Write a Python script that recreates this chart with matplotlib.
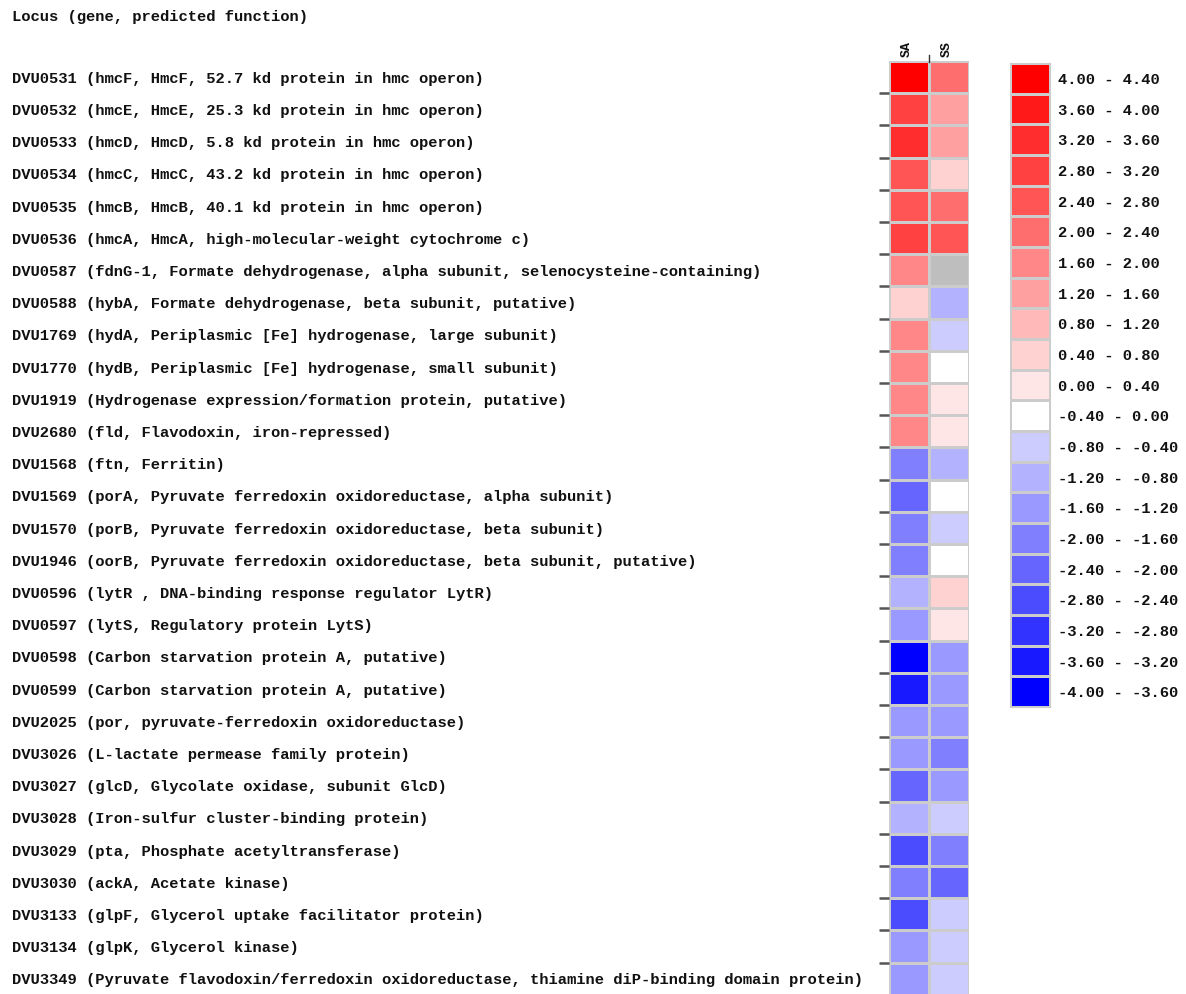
import numpy as np
import matplotlib
matplotlib.use("Agg")
import matplotlib.pyplot as plt
from matplotlib.colors import ListedColormap, BoundaryNorm
from matplotlib.transforms import blended_transform_factory

loci = [
    "DVU0531 (hmcF, HmcF, 52.7 kd protein in hmc operon)",
    "DVU0532 (hmcE, HmcE, 25.3 kd protein in hmc operon)",
    "DVU0533 (hmcD, HmcD, 5.8 kd protein in hmc operon)",
    "DVU0534 (hmcC, HmcC, 43.2 kd protein in hmc operon)",
    "DVU0535 (hmcB, HmcB, 40.1 kd protein in hmc operon)",
    "DVU0536 (hmcA, HmcA, high-molecular-weight cytochrome c)",
    "DVU0587 (fdnG-1, Formate dehydrogenase, alpha subunit, selenocysteine-containing)",
    "DVU0588 (hybA, Formate dehydrogenase, beta subunit, putative)",
    "DVU1769 (hydA, Periplasmic [Fe] hydrogenase, large subunit)",
    "DVU1770 (hydB, Periplasmic [Fe] hydrogenase, small subunit)",
    "DVU1919 (Hydrogenase expression/formation protein, putative)",
    "DVU2680 (fld, Flavodoxin, iron-repressed)",
    "DVU1568 (ftn, Ferritin)",
    "DVU1569 (porA, Pyruvate ferredoxin oxidoreductase, alpha subunit)",
    "DVU1570 (porB, Pyruvate ferredoxin oxidoreductase, beta subunit)",
    "DVU1946 (oorB, Pyruvate ferredoxin oxidoreductase, beta subunit, putative)",
    "DVU0596 (lytR , DNA-binding response regulator LytR)",
    "DVU0597 (lytS, Regulatory protein LytS)",
    "DVU0598 (Carbon starvation protein A, putative)",
    "DVU0599 (Carbon starvation protein A, putative)",
    "DVU2025 (por, pyruvate-ferredoxin oxidoreductase)",
    "DVU3026 (L-lactate permease family protein)",
    "DVU3027 (glcD, Glycolate oxidase, subunit GlcD)",
    "DVU3028 (Iron-sulfur cluster-binding protein)",
    "DVU3029 (pta, Phosphate acetyltransferase)",
    "DVU3030 (ackA, Acetate kinase)",
    "DVU3133 (glpF, Glycerol uptake facilitator protein)",
    "DVU3134 (glpK, Glycerol kinase)",
    "DVU3349 (Pyruvate flavodoxin/ferredoxin oxidoreductase, thiamine diP-binding domain protein)",
]

columns = ["SA", "SS"]

sa_values = [4.2, 3.0, 3.4, 2.6, 2.6, 3.0, 1.8, 0.6, 1.8, 1.8, 1.8, 1.8,
             -1.8, -2.2, -1.8, -1.8, -1.0, -1.4, -3.8, -3.4,
             -1.4, -1.4, -2.2, -1.0, -2.6, -1.8, -2.6, -1.4, -1.4]
ss_values = [2.2, 1.4, 1.4, 0.6, 2.2, 2.6, np.nan, -1.0, -0.6, -0.2, 0.2, 0.2,
             -1.0, -0.2, -0.6, -0.2, 0.6, 0.2, -1.4, -1.4,
             -1.4, -1.8, -1.4, -0.6, -1.8, -2.2, -0.6, -0.6, -0.6]

bin_edges = [-4.0, -3.6, -3.2, -2.8, -2.4, -2.0, -1.6, -1.2, -0.8, -0.4, 0.0,
             0.4, 0.8, 1.2, 1.6, 2.0, 2.4, 2.8, 3.2, 3.6, 4.0, 4.4]

bin_colors = [
    "#0000ff", "#1919ff", "#3333ff", "#4c4cff", "#6666ff", "#8080ff",
    "#9999ff", "#b2b2ff", "#ccccff", "#ffffff",
    "#ffe6e6", "#ffd2d2", "#ffb9b9", "#ffa0a0", "#ff8787", "#ff6e6e",
    "#ff5555", "#ff4141", "#ff2d2d", "#ff1919", "#ff0000",
]

cmap = ListedColormap(bin_colors)
cmap.set_bad("#bebebe")
norm = BoundaryNorm(bin_edges, cmap.N)

W, H = 1186, 994
fig = plt.figure(figsize=(W / 100, H / 100), dpi=100)
FONT = dict(family="Liberation Mono", weight="bold", color="#111111")
FS = 11.15

def fx(px):
    return px / W

def fy(py):
    return 1 - py / H

# Heatmap axes
n = len(loci)
row_h = 32.2
top = 61
left, right = 889, 969
ax = fig.add_axes([fx(left), fy(top + n * row_h), fx(right - left), (n * row_h) / H])
data = np.ma.masked_invalid(np.column_stack([sa_values, ss_values]))
ax.pcolormesh(np.arange(3), np.arange(n + 1), data, cmap=cmap, norm=norm,
              edgecolors="#cccccc", linewidth=0.8)
ax.set_xlim(0, 2)
ax.set_ylim(n, 0)
for s in ax.spines.values():
    s.set_visible(False)
ax.set_xticks([])
ax.set_yticks(np.arange(1, n))
ax.set_yticklabels([])
ax.tick_params(axis="y", length=7, width=1.8, color="#555555")

trans = blended_transform_factory(fig.transFigure, ax.transData)
for i, lab in enumerate(loci):
    ax.text(fx(12), i + 0.55, lab, transform=trans, ha="left", va="center",
            fontsize=FS, **FONT)

# Column headers
for j, c in enumerate(columns):
    fig.text(fx(left + 18 + j * 40), fy(57), c, rotation=90, ha="center", va="bottom",
             fontsize=9.5, **FONT)
fig.add_artist(plt.Line2D([fx(929), fx(929)], [fy(55), fy(62)], color="#333333", lw=1))

# Title
fig.text(fx(12), fy(17), "Locus (gene, predicted function)", ha="left", va="center",
         fontsize=FS, **FONT)

# Legend
nb = len(bin_colors)
lg_top, lg_bot = 63, 707
lax = fig.add_axes([fx(1010), fy(lg_bot), fx(40), (lg_bot - lg_top) / H])
vals = np.array(bin_edges[:-1])[::-1].reshape(-1, 1) + 0.2
lax.pcolormesh(np.arange(2), np.arange(nb + 1), vals, cmap=cmap, norm=norm,
               edgecolors="#cccccc", linewidth=0.8)
lax.set_xlim(0, 1)
lax.set_ylim(nb, 0)
lax.set_xticks([])
lax.set_yticks([])
for s in lax.spines.values():
    s.set_color("#cccccc")
ltrans = blended_transform_factory(fig.transFigure, lax.transData)
for k in range(nb):
    lo = bin_edges[nb - 1 - k]
    hi = bin_edges[nb - k]
    lax.text(fx(1058), k + 0.55, f"{lo:.2f} - {hi:.2f}", transform=ltrans,
             ha="left", va="center", fontsize=FS, **FONT)

fig.savefig("out.png", dpi=100, facecolor="white")
